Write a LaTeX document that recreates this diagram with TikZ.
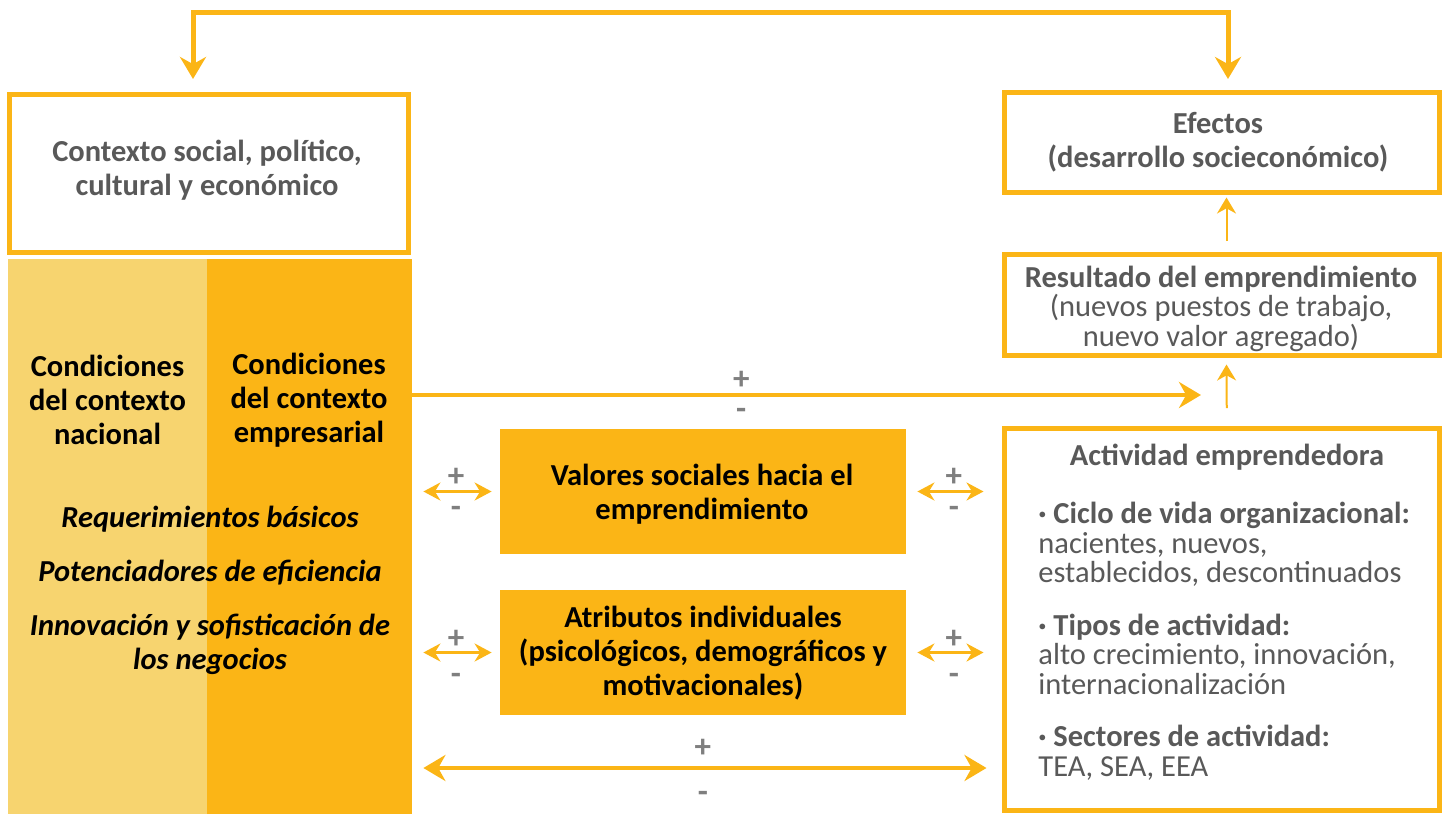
\documentclass[tikz,border=0pt]{standalone}
\usepackage{fontspec}
\setmainfont{Carlito}
\usetikzlibrary{arrows.meta}
\definecolor{gemorange}{HTML}{FBB516}
\definecolor{gemlight}{HTML}{F7D46F}
\definecolor{gemgray}{HTML}{595959}
\definecolor{signgray}{HTML}{7F7F7F}

\begin{document}
\begin{tikzpicture}[x=0.5pt, y=-0.5pt,
		frame/.style={draw=gemorange, line width=2.5pt, fill=white, inner sep=0pt},
		fullbox/.style={fill=gemorange, inner sep=0pt, minimum width=203pt, minimum height=62.5pt},
		txt/.style={inner sep=0pt, align=center, font=\fontsize{15.25}{17}\selectfont\bfseries},
		graytxt/.style={txt, text=gemgray},
		sign/.style={text=signgray, inner sep=0pt, font=\fontsize{16.5}{16.5}\selectfont\bfseries},
		link/.style={gemorange, line width=2pt},
		thinlink/.style={gemorange, line width=1.5pt},
		bigtip/.tip={Stealth[length=11pt, width=13pt]},
		smalltip/.tip={Stealth[length=8.5pt, width=9pt]},
		uptip/.tip={Stealth[length=8pt, width=9.5pt]}]
		
		\useasboundingbox (0, 0) rectangle (1445, 814);
		
		% left block
		\node [fill=gemlight, inner sep=0pt, minimum width=99.5pt, minimum height=277.5pt] (nat) at (107.5, 536.5) {};
		\node [fill=gemorange, inner sep=0pt, minimum width=102.5pt, minimum height=277.5pt] (emp) at (309.5, 536.5) {};
		\node [frame, minimum width=199.5pt, minimum height=79pt] (ctx) at (209, 173.5) {};
		\node [graytxt] (ctxtext) at (207, 170) {Contexto social, político,\\cultural y económico};
		
		\node [txt] (nattext) at (107.5, 400) {Condiciones\\del contexto\\nacional};
		\node [txt] (emptext) at (309, 400) {Condiciones\\del contexto\\empresarial};
		\node [txt, font=\fontsize{15.25}{17}\selectfont\bfseries\itshape] (pillars) at (210, 590.5)
			{Requerimientos básicos\\[10pt]Potenciadores de eficiencia\\[10pt]Innovación y sofisticación de\\los negocios};
		
		% middle boxes
		\node [fullbox] (val) at (703, 491.5) {};
		\node [txt] (valtext) at (702, 494.5) {Valores sociales hacia el\\emprendimiento};
		\node [fullbox] (atr) at (703, 652.5) {};
		\node [txt] (atrtext) at (703, 653.5) {Atributos individuales\\(psicológicos, demográficos y\\motivacionales)};
		
		% right column
		\node [frame, minimum width=217.5pt, minimum height=50pt] (efe) at (1221.5, 142) {};
		\node [graytxt] (efetext) at (1218, 142.5) {Efectos\\(desarrollo socieconómico)};
		\node [frame, minimum width=217.5pt, minimum height=50.5pt] (res) at (1221.5, 305) {};
		\node [graytxt, font=\fontsize{15.25}{14.75}\selectfont] (restext) at (1221, 308.5)
			{\textbf{Resultado del emprendimiento}\\(nuevos puestos de trabajo,\\nuevo valor agregado)};
		\node [frame, minimum width=217.75pt, minimum height=191pt] (act) at (1221.75, 619.5) {};
		\node [graytxt] (acttitle) at (1227, 457) {Actividad emprendedora};
		\node [graytxt, align=left, anchor=north west, font=\fontsize{15.25}{14.75}\selectfont] (actlist) at (1038, 502)
			{\textbf{· Ciclo de vida organizacional:}\\nacientes, nuevos,\\establecidos, descontinuados\\[11.5pt]
			\textbf{· Tipos de actividad:}\\alto crecimiento, innovación,\\internacionalización\\[11.5pt]
			\textbf{· Sectores de actividad:}\\TEA, SEA, EEA};
		
		\coordinate (ctxin) at (193, 79);
		\coordinate (efein) at (1228, 79);
		\coordinate (resin) at (1201, 395);
		
		\draw [link, line width=2.5pt, {bigtip}-{bigtip}] (ctxin) |- (640, 12) -| (efein);
		\draw [link, -{bigtip}] (emp.east |- resin) -- node [sign, pos=0.417, yshift=7.5pt] {+} node [sign, pos=0.417, yshift=-9.5pt] {-} (resin);
		\draw [gemorange, line width=1pt, -{uptip}] ([xshift=2.5pt, yshift=9pt]act.north) -- ([xshift=2.5pt, yshift=-3.25pt]res.south);
		\draw [gemorange, line width=1pt, -{uptip}] ([xshift=2.5pt, yshift=5.5pt]res.north) -- ([xshift=2.5pt, yshift=-1.5pt]efe.south);
		
		\draw [thinlink, {smalltip}-{smalltip}, shorten <=5.5pt, shorten >=4pt] (emp.east |- val.west) -- node [sign, yshift=7pt] {+} node [sign, yshift=-10pt] {-} (val.west);
		\draw [thinlink, {smalltip}-{smalltip}, shorten <=5.5pt, shorten >=9pt] (val.east) -- node [sign, yshift=7pt] {+} node [sign, yshift=-10pt] {-} (act.west |- val.east);
		\draw [thinlink, {smalltip}-{smalltip}, shorten <=5.5pt, shorten >=4pt] (emp.east |- atr.west) -- node [sign, yshift=6.5pt] {+} node [sign, yshift=-13pt] {-} (atr.west);
		\draw [thinlink, {smalltip}-{smalltip}, shorten <=5.5pt, shorten >=9pt] (atr.east) -- node [sign, yshift=6.5pt] {+} node [sign, yshift=-13pt] {-} (act.west |- atr.east);
		
		\draw [link, {bigtip}-{bigtip}, shorten <=5.5pt, shorten >=7.5pt] (emp.east |- 0, 768) -- node [sign, pos=0.493, yshift=10pt] {+} node [sign, pos=0.493, yshift=-14.5pt] {-} (act.west |- 0, 768);
		
\end{tikzpicture}
\end{document}
